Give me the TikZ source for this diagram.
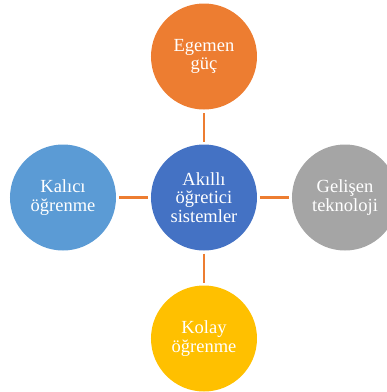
\documentclass[tikz,border=0pt]{standalone}
\usepackage{fontspec}
\setmainfont{Liberation Serif}
\usepackage{tikz}
\usetikzlibrary{positioning}

\definecolor{mainblue}{HTML}{4472C4}
\definecolor{smorange}{HTML}{ED7D31}
\definecolor{smgray}{HTML}{A5A5A5}
\definecolor{smgold}{HTML}{FFC000}
\definecolor{smblue}{HTML}{5B9BD5}

\begin{document}
\begin{tikzpicture}[
  x=1pt, y=1pt,
  node distance=35pt,
  bubble/.style={circle, minimum size=106pt, inner sep=0pt, outer sep=0pt, align=center, text=white, font=\fontsize{18.5}{18.5}\selectfont},
  link/.style={draw=smorange, line width=2.5pt, shorten <=3pt, shorten >=3pt}
]
\useasboundingbox (-204,-194.5) rectangle (183,197.5);
\node[bubble, fill=mainblue] (center) {Akıllı\\öğretici\\sistemler};
\node[bubble, fill=smorange, above=of center] (power) {Egemen\\güç};
\node[bubble, fill=smgray, right=of center] (tech) {Gelişen\\teknoloji};
\node[bubble, fill=smgold, below=of center] (easy) {Kolay\\öğrenme};
\node[bubble, fill=smblue, left=of center] (lasting) {Kalıcı\\öğrenme};
\draw[link] (center) -- (power);
\draw[link] (center) -- (tech);
\draw[link] (center) -- (easy);
\draw[link] (center) -- (lasting);
\end{tikzpicture}
\end{document}
